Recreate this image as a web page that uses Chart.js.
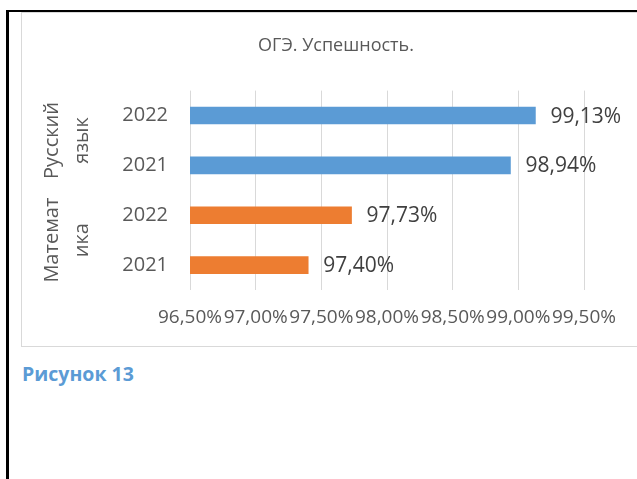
<!DOCTYPE html>
<html>
<head>
<meta charset="utf-8">
<script src="https://cdn.jsdelivr.net/npm/chart.js@4"></script>
<style>
    html, body { margin: 0; padding: 0; background: #fff; overflow: hidden; }
    body { width: 637px; height: 479px; position: relative; font-family: 'Open Sans', sans-serif; }
    .frame-left { position: absolute; left: 6px; top: 10px; width: 3px; height: 480px; background: #000; }
    .frame-top { position: absolute; left: 6px; top: 10px; width: 640px; height: 2px; background: #000; }
    .chart-box { position: absolute; left: 21px; top: 12px; width: 628px; height: 333px; border: 1px solid #d9d9d9; }
    .caption { position: absolute; left: 22px; top: 360px; color: #5b9bd5; font-weight: bold; font-size: 19.5px; }
</style>
</head>
<body>
<div class="frame-left"></div>
<div class="frame-top"></div>
<div class="chart-box"><canvas id="oge"></canvas></div>
<div class="caption">Рисунок 13</div>

<script>
// Data
const groups = [['Русский', 'язык'], ['Математ', 'ика']];
const years = ['2022', '2021', '2022', '2021'];
const rusValues = [99.13, 98.94];
const mathValues = [97.73, 97.40];
const xTicks = [96.5, 97.0, 97.5, 98.0, 98.5, 99.0, 99.5];

const values = rusValues.concat(mathValues);
const colors = rusValues.map(() => '#5b9bd5').concat(mathValues.map(() => '#ed7d31'));
const textColor = '#595959';
const fmt = v => v.toFixed(2).replace('.', ',') + '%';

// value labels at bar ends
const valueLabels = {
    id: 'valueLabels',
    afterDatasetsDraw(chart) {
        const ctx = chart.ctx;
        const meta = chart.getDatasetMeta(0);
        ctx.save();
        ctx.font = '21px "Open Sans"';
        ctx.fillStyle = '#404040';
        ctx.textAlign = 'left';
        ctx.textBaseline = 'middle';
        meta.data.forEach((bar, i) => {
            ctx.fillText(fmt(values[i]), bar.x + 15, bar.y + 1);
        });
        ctx.restore();
    }
};

// rotated group names on the left
const groupLabels = {
    id: 'groupLabels',
    afterDraw(chart) {
        const ctx = chart.ctx;
        const y = chart.scales.y;
        ctx.save();
        ctx.font = '20px "Open Sans"';
        ctx.fillStyle = textColor;
        ctx.textAlign = 'center';
        ctx.textBaseline = 'middle';
        groups.forEach((lines, g) => {
            const yc = (y.getPixelForValue(g * 2) + y.getPixelForValue(g * 2 + 1)) / 2;
            ctx.save();
            ctx.translate(0, yc);
            ctx.rotate(-Math.PI / 2);
            lines.forEach((line, k) => ctx.fillText(line, 0, 30 + k * 30));
            ctx.restore();
        });
        ctx.restore();
    }
};

new Chart(document.getElementById('oge'), {
    type: 'bar',
    data: {
        labels: years,
        datasets: [{
            data: values,
            backgroundColor: colors,
            borderWidth: 0,
            barThickness: 17
        }]
    },
    options: {
        indexAxis: 'y',
        responsive: true,
        maintainAspectRatio: false,
        animation: false,
        layout: { padding: 0 },
        plugins: {
            legend: { display: false },
            tooltip: { enabled: false },
            title: {
                display: true,
                text: 'ОГЭ. Успешность.',
                color: textColor,
                font: { family: 'Open Sans', size: 18, weight: 'normal' },
                padding: { top: 22, bottom: 34 }
            }
        },
        scales: {
            x: {
                min: 96.5,
                max: 99.5,
                afterBuildTicks: s => { s.ticks = xTicks.map(v => ({ value: v })); },
                afterFit: s => { s.height = 56; },
                border: { display: false },
                grid: { color: '#d9d9d9', drawTicks: false },
                ticks: {
                    color: textColor,
                    autoSkip: false,
                    maxRotation: 0,
                    padding: 16,
                    font: { family: 'Open Sans', size: 19 },
                    callback: v => fmt(v)
                }
            },
            y: {
                afterFit: s => { s.width = 168; },
                border: { display: false },
                grid: { display: false, drawTicks: false },
                ticks: {
                    color: textColor,
                    padding: 22,
                    font: { family: 'Open Sans', size: 20 }
                }
            },
            // empty right axis keeps room on the right side of the plot
            spacer: {
                type: 'linear',
                axis: 'y',
                position: 'right',
                display: true,
                afterFit: s => { s.width = 66; },
                border: { display: false },
                grid: { display: false, drawTicks: false },
                ticks: { display: false }
            }
        }
    },
    plugins: [valueLabels, groupLabels]
});
</script>
</body>
</html>
